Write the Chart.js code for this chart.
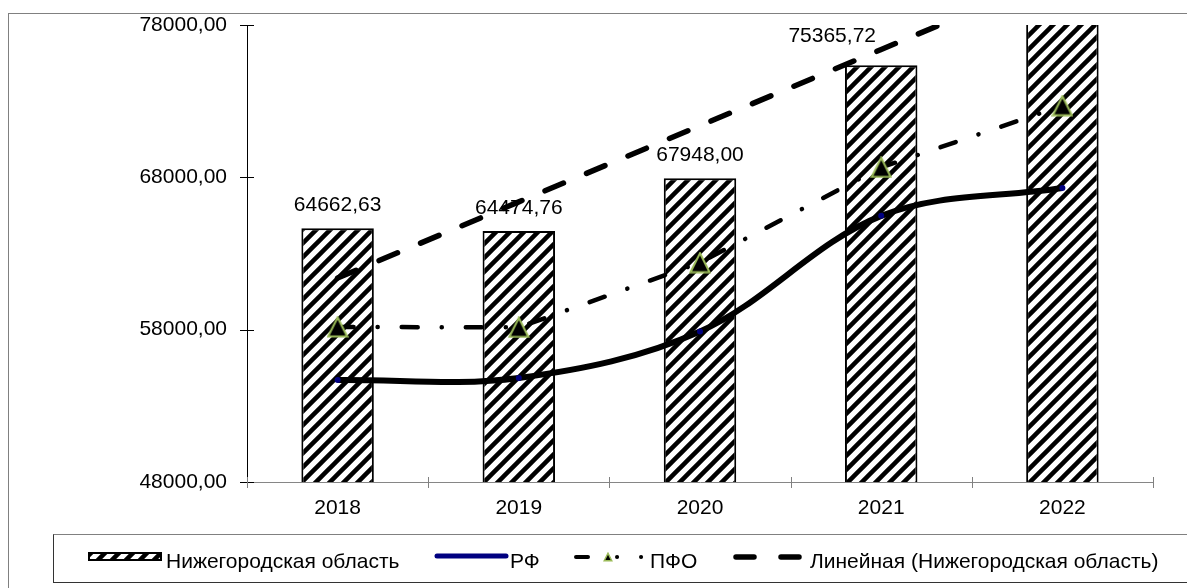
<!DOCTYPE html>
<html>
<head>
<meta charset="utf-8">
<script src="https://cdn.jsdelivr.net/npm/chart.js@4.4.0/dist/chart.umd.min.js"></script>
<style>
  html, body { margin: 0; padding: 0; background: #fff; overflow: hidden; }
  #wrap { position: relative; width: 1187px; height: 588px; overflow: hidden; }
  #chart { position: absolute; left: 0; top: 0; }
  #frame { position: absolute; left: 8px; top: 13px; width: 1300px; height: 700px; border: 1px solid #808080; }
  #legend { position: absolute; left: 53px; top: 534px; width: 1300px; height: 47px;
            border: 1px solid #333; border-top-color: #808080; }
  .lg { position: absolute; top: 549px; font: 21px Arial, "Liberation Sans", sans-serif;
        line-height: 24px; white-space: nowrap; color: #000; }
</style>
</head>
<body>
<div id="wrap">
  <canvas id="chart" width="1187" height="588"></canvas>
  <div id="frame"></div>
  <div id="legend"></div>
  <span class="lg" style="left:166px">Нижегородская область</span>
  <span class="lg" style="left:510px">РФ</span>
  <span class="lg" style="left:650px">ПФО</span>
  <span class="lg" style="left:810px">Линейная (Нижегородская область)</span>
</div>
<script>
// Chart data
const years = ['2018', '2019', '2020', '2021', '2022'];
const nizhValues = [64662.63, 64474.76, 67948.00, 75365.72, 84200];
const rfValues = [54700, 54830, 57880, 65470, 67300];
const pfoValues = [58180, 58150, 62400, 68650, 72700];
const trendValues = [61390, 66390, 71390, 76390, 81390];
const yMin = 48000, yMax = 78000, yStep = 10000;

// label nudges (the 2021 label sits left of its bar)
const labelShiftX = [0, 0, 0, -49, 0];
const labelShiftY = [0, 0, 0, -6, 0];

const FONT = 'Arial, "Liberation Sans", sans-serif';

function fmt(v) {
    return Number(v).toFixed(2).replace('.', ',');
}

// Diagonal hatch for the bars
function makeHatch() {
    const s = 14;
    const c = document.createElement('canvas');
    c.width = s; c.height = s;
    const g = c.getContext('2d');
    g.fillStyle = '#fff';
    g.fillRect(0, 0, s, s);
    g.strokeStyle = '#000';
    g.lineWidth = 4.5;
    g.beginPath();
    g.moveTo(-2, s + 2); g.lineTo(s + 2, -2);
    g.moveTo(-3, 3); g.lineTo(3, -3);
    g.moveTo(s - 3, s + 3); g.lineTo(s + 3, s - 3);
    g.stroke();
    return g.createPattern(c, 'repeat');
}
const hatch = makeHatch();

// Triangle marker (black with olive border)
function makeTriangle(size, lw) {
    const c = document.createElement('canvas');
    c.width = size; c.height = size;
    const g = c.getContext('2d');
    const p = lw / 2 + 0.5;
    g.beginPath();
    g.moveTo(size / 2, p);
    g.lineTo(size - p, size - p);
    g.lineTo(p, size - p);
    g.closePath();
    g.fillStyle = '#000';
    g.fill();
    g.strokeStyle = '#9BBB59';
    g.lineWidth = lw;
    g.stroke();
    return c;
}
const triMarker = makeTriangle(22, 2);
const triLegend = makeTriangle(10, 1.5);

// Value labels above the bars
const barLabels = {
    id: 'barLabels',
    afterDatasetDraw(chart, args) {
        if (args.index !== 0) return;
        const ctx = chart.ctx;
        ctx.save();
        ctx.font = '21px ' + FONT;
        ctx.fillStyle = '#000';
        ctx.textAlign = 'center';
        ctx.textBaseline = 'middle';
        args.meta.data.forEach((bar, i) => {
            if (nizhValues[i] > yMax) return;
            ctx.fillText(fmt(nizhValues[i]), bar.x + labelShiftX[i], bar.y - 23 + labelShiftY[i]);
        });
        ctx.restore();
    }
};

// Crossing tick marks + legend symbols
const extras = {
    id: 'extras',
    afterDraw(chart) {
        const ctx = chart.ctx;
        const x = chart.scales.x, y = chart.scales.y;
        ctx.save();
        ctx.lineWidth = 1;
        ctx.strokeStyle = '#000';
        y.ticks.forEach(t => {
            const py = Math.round(y.getPixelForValue(t.value)) + 0.5;
            ctx.beginPath();
            ctx.moveTo(x.left - 7, py);
            ctx.lineTo(x.left + 7, py);
            ctx.stroke();
        });
        ctx.strokeStyle = '#808080';
        const step = (x.right - x.left) / years.length;
        for (let k = 0; k <= years.length; k++) {
            const px = Math.round(x.left + k * step) + 0.5;
            ctx.beginPath();
            ctx.moveTo(px, y.bottom - 5);
            ctx.lineTo(px, y.bottom + 6);
            ctx.stroke();
        }

        // legend: hatched box
        ctx.fillStyle = hatch;
        ctx.fillRect(88, 552, 74, 9);
        ctx.strokeStyle = '#000';
        ctx.lineWidth = 2;
        ctx.strokeRect(89, 553, 72, 7);

        // legend: RF
        ctx.lineCap = 'round';
        ctx.strokeStyle = '#000080';
        ctx.lineWidth = 5;
        ctx.beginPath();
        ctx.moveTo(437, 556); ctx.lineTo(506, 556);
        ctx.stroke();

        // legend: PFO
        ctx.strokeStyle = '#000';
        ctx.lineWidth = 4;
        ctx.beginPath();
        ctx.moveTo(576, 557); ctx.lineTo(588, 557);
        ctx.moveTo(617, 557); ctx.lineTo(617.1, 557);
        ctx.moveTo(641, 557); ctx.lineTo(641.1, 557);
        ctx.stroke();
        ctx.drawImage(triLegend, 603, 552);

        // legend: trend
        ctx.lineWidth = 5.5;
        ctx.beginPath();
        ctx.moveTo(736, 557); ctx.lineTo(754, 557);
        ctx.moveTo(781, 557); ctx.lineTo(799, 557);
        ctx.stroke();
        ctx.restore();
    }
};

const ctx = document.getElementById('chart');
const chart = new Chart(ctx.getContext('2d'), {
    type: 'bar',
    data: {
        labels: years,
        datasets: [
            {
                type: 'bar',
                label: 'Нижегородская область',
                data: nizhValues,
                backgroundColor: hatch,
                borderColor: '#000',
                borderWidth: 2,
                barPercentage: 0.4,
                categoryPercentage: 1,
                clip: 0,
                order: 4
            },
            {
                type: 'line',
                label: 'Линейная (Нижегородская область)',
                data: trendValues,
                borderColor: '#000',
                borderWidth: 5.5,
                borderDash: [20, 25],
                borderCapStyle: 'round',
                pointRadius: 0,
                tension: 0,
                clip: 0,
                order: 3
            },
            {
                type: 'line',
                label: 'ПФО',
                data: pfoValues,
                borderColor: '#000',
                borderWidth: 4.5,
                borderDash: [16, 24, 0.1, 24],
                borderCapStyle: 'round',
                pointStyle: triMarker,
                pointRadius: 11,
                tension: 0,
                order: 2
            },
            {
                type: 'line',
                label: 'РФ',
                data: rfValues,
                borderColor: '#000',
                borderWidth: 6,
                tension: 0.35,
                pointRadius: 3,
                pointBackgroundColor: '#000080',
                pointBorderColor: '#000080',
                pointBorderWidth: 0,
                order: 1
            }
        ]
    },
    options: {
        responsive: false,
        animation: false,
        devicePixelRatio: 1,
        layout: { padding: { left: 0, right: 34, top: 25, bottom: 68 } },
        plugins: {
            legend: { display: false },
            tooltip: { enabled: false }
        },
        scales: {
            x: {
                grid: { display: false, drawTicks: false },
                border: { display: true, color: '#868686', width: 1 },
                ticks: { color: '#000', font: { family: FONT, size: 21 }, padding: 14, maxRotation: 0 },
                afterFit(s) {
                    s.height = 38;
                    s.paddingLeft = 0;
                    s.paddingRight = 0;
                }
            },
            y: {
                min: yMin,
                max: yMax,
                grid: { display: false, drawTicks: false },
                border: { display: true, color: '#000', width: 1 },
                ticks: {
                    stepSize: yStep,
                    color: '#000',
                    font: { family: FONT, size: 21 },
                    padding: 20,
                    callback: v => fmt(v)
                },
                afterFit(s) {
                    s.width = 247;
                    s.paddingTop = 0;
                    s.paddingBottom = 0;
                }
            }
        }
    },
    plugins: [barLabels, extras]
});
</script>
</body>
</html>
